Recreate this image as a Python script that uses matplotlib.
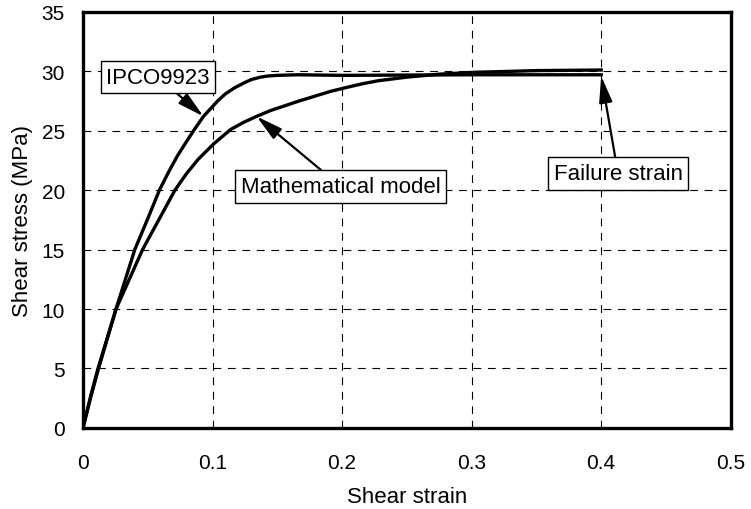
import matplotlib
matplotlib.use("Agg")
import matplotlib.pyplot as plt

plt.rcParams['font.family'] = ['Liberation Sans', 'DejaVu Sans']

# Data (strain, stress in MPa)
ipco_strain = [0.0, 0.006, 0.012, 0.0255, 0.040, 0.050, 0.059, 0.066, 0.073, 0.080, 0.086,
               0.093, 0.104, 0.110, 0.117, 0.124, 0.130, 0.137, 0.143, 0.150, 0.166, 0.200,
               0.300, 0.400]
ipco_stress = [0.0, 2.6, 5.0, 10.0, 15.0, 17.6, 20.0, 21.5, 22.9, 24.1, 25.1,
               26.2, 27.5, 28.1, 28.6, 29.0, 29.3, 29.5, 29.6, 29.65, 29.7, 29.65,
               29.7, 29.7]

model_strain = [0.0, 0.006, 0.0116, 0.0255, 0.046, 0.059, 0.071, 0.080, 0.089, 0.101, 0.114,
                0.124, 0.134, 0.145, 0.156, 0.167, 0.179, 0.191, 0.204, 0.216, 0.228, 0.250,
                0.275, 0.300, 0.350, 0.400]
model_stress = [0.0, 2.7, 5.0, 10.0, 15.0, 17.6, 20.0, 21.4, 22.6, 23.9, 25.1,
                25.7, 26.2, 26.7, 27.1, 27.5, 27.9, 28.3, 28.65, 28.95, 29.2, 29.5,
                29.75, 29.9, 30.05, 30.1]

x_ticks = [0, 0.1, 0.2, 0.3, 0.4, 0.5]
x_labels = ['0', '0.1', '0.2', '0.3', '0.4', '0.5']
y_ticks = [0, 5, 10, 15, 20, 25, 30, 35]

fig = plt.figure(figsize=(7.51, 5.10), dpi=100)
ax = fig.add_axes([0.1105, 0.159, 0.8625, 0.816])

ax.plot(ipco_strain, ipco_stress, color='black', lw=2.4, solid_joinstyle='round')
ax.plot(model_strain, model_stress, color='black', lw=2.4, solid_joinstyle='round')

ax.set_xlim(0, 0.5)
ax.set_ylim(0, 35)
ax.set_xticks(x_ticks)
ax.set_xticklabels(x_labels)
ax.set_yticks(y_ticks)
ax.tick_params(axis='x', length=0, labelsize=15, pad=18)
ax.tick_params(axis='y', length=0, labelsize=15, pad=13)
ax.grid(True, color='black', linestyle=(0, (7, 6)), linewidth=0.8)
for s in ax.spines.values():
    s.set_linewidth(2.4)

ax.set_xlabel('Shear strain', fontsize=16, labelpad=10)
ax.set_ylabel('Shear stress (MPa)', fontsize=16, labelpad=6)

box = dict(boxstyle='square,pad=0.25', fc='white', ec='black', lw=1)
arrow = dict(arrowstyle='-|>,head_length=1.0,head_width=0.25', color='black', lw=1.6,
             shrinkA=0, shrinkB=0)

ax.annotate('IPCO9923', xy=(0.093, 26.2), xytext=(0.058, 29.5), fontsize=16,
            ha='center', va='center', bbox=box, arrowprops=arrow)
ax.annotate('Mathematical model', xy=(0.134, 26.2), xytext=(0.199, 20.3), fontsize=16,
            ha='center', va='center', bbox=box, arrowprops=arrow)
ax.annotate('Failure strain', xy=(0.4, 29.6), xytext=(0.413, 21.4), fontsize=16,
            ha='center', va='center', bbox=box, arrowprops=arrow)

fig.savefig('out.png', dpi=100)
